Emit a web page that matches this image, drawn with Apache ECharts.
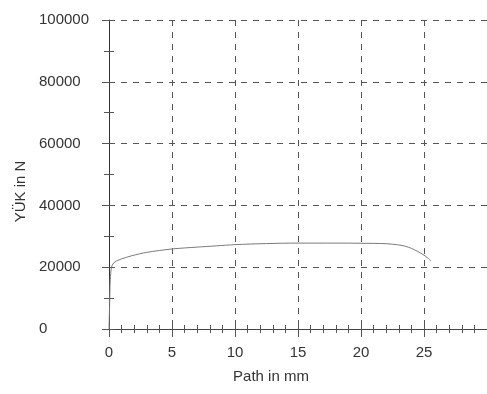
<!DOCTYPE html>
<html><head><meta charset="utf-8">
<script src="https://cdn.jsdelivr.net/npm/echarts@6/dist/echarts.min.js"></script>
<style>html,body{margin:0;padding:0;background:#fff}#c{width:487px;height:394px}</style>
</head><body><div id="c"></div>
<script>
const pathMm = [0, 0.05, 0.1, 0.2, 0.35, 0.6, 1, 1.8, 3, 5, 7, 8.5, 10, 12.5, 15, 18, 20, 22, 23, 23.5, 24, 24.5, 25, 25.3, 25.55];
const loadN = [0, 8000, 16000, 20000, 21300, 22000, 22700, 23700, 24800, 25900, 26500, 26900, 27300, 27650, 27800, 27800, 27750, 27600, 27200, 26800, 26100, 25100, 23900, 23000, 22000];
const xTicks = [0, 5, 10, 15, 20, 25];
const yTicks = [0, 20000, 40000, 60000, 80000, 100000];
const xName = 'Path in mm';
const yName = 'YÜK in N';

const font = 'Arial, "Liberation Sans", sans-serif';
const gridDash = {color: '#555', width: 1, type: [6, 6]};
const chart = echarts.init(document.getElementById('c'));
const xBase = {
  type: 'value', min: 0, max: 30, interval: 5, position: 'bottom'
};
const yBase = {
  type: 'value', min: yTicks[0], max: yTicks[yTicks.length - 1], interval: 20000, position: 'left'
};
chart.setOption({
  backgroundColor: '#fff',
  animation: false,
  grid: {left: 109, top: 20, right: -16, bottom: 65},
  xAxis: [
    Object.assign({}, xBase, {
      name: xName, nameLocation: 'middle', nameGap: 40,
      nameTextStyle: {fontFamily: font, fontSize: 15, color: '#333', padding: [0, 54, 0, 0]},
      axisLine: {show: true, lineStyle: {color: '#444', width: 1}},
      axisTick: {show: true, length: 8, lineStyle: {color: '#555'}},
      minorTick: {show: true, splitNumber: 5, length: 4, lineStyle: {color: '#555'}},
      axisLabel: {fontFamily: font, fontSize: 15, color: '#333', margin: 16, showMaxLabel: false,
        formatter: v => xTicks.indexOf(v) >= 0 ? String(v) : ''},
      splitLine: {show: true, lineStyle: gridDash},
      minorSplitLine: {show: false}
    }),
    Object.assign({}, xBase, {
      axisLine: {show: false},
      axisTick: {show: true, inside: true, length: 4, lineStyle: {color: '#555'}},
      minorTick: {show: true, splitNumber: 5, length: 4, lineStyle: {color: '#555'}},
      axisLabel: {show: false},
      splitLine: {show: false}
    })
  ],
  yAxis: [
    Object.assign({}, yBase, {
      name: yName, nameLocation: 'middle', nameGap: 77,
      nameTextStyle: {fontFamily: font, fontSize: 15, color: '#333', padding: [0, 34, 0, 0]},
      axisLine: {show: true, lineStyle: {color: '#333', width: 1}},
      axisTick: {show: true, length: 7, lineStyle: {color: '#555'}},
      minorTick: {show: true, splitNumber: 2, length: 5, lineStyle: {color: '#555'}},
      axisLabel: {fontFamily: font, fontSize: 15, color: '#333', align: 'left', margin: 70,
        padding: [0, 0, 10, 0], formatter: v => String(v)},
      splitLine: {show: true, lineStyle: gridDash}
    }),
    Object.assign({}, yBase, {
      axisLine: {show: false},
      axisTick: {show: true, inside: true, length: 5, lineStyle: {color: '#555'}},
      minorTick: {show: true, splitNumber: 2, length: 5, lineStyle: {color: '#555'}},
      axisLabel: {show: false},
      splitLine: {show: false}
    })
  ],
  series: [{
    type: 'line', xAxisIndex: 0, yAxisIndex: 0, smooth: 0.3, showSymbol: false,
    lineStyle: {color: '#7a7a7a', width: 1},
    data: pathMm.map((x, i) => [x, loadN[i]])
  }]
});
</script></body></html>
